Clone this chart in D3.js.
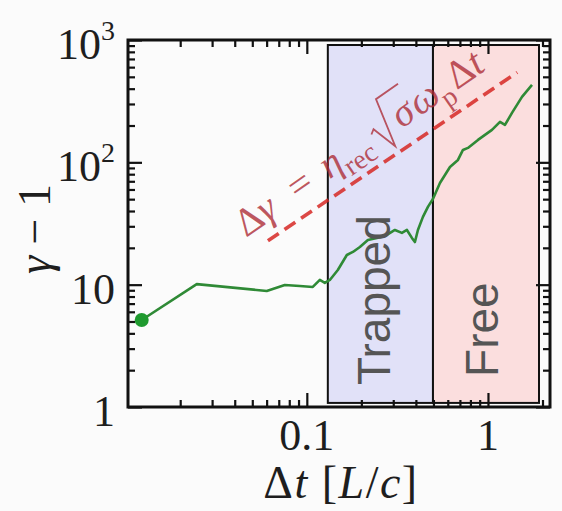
<!DOCTYPE html>
<html><head><meta charset="utf-8">
<script src="https://cdn.jsdelivr.net/npm/d3@7"></script>
<style>
html,body{margin:0;padding:0;background:#fbfbfb;}
svg{display:block;}
</style></head><body>
<script>
// Time lag Δt (units of L/c) and mean energy gain γ − 1
const dtValues = [0.01226,0.02468,0.0601,0.0756,0.0915,0.1079,0.1180,0.1257,0.1340,0.1483,
  0.1663,0.1796,0.1963,0.2173,0.2436,0.2767,0.3064,0.3349,0.3569,0.3803,
  0.3951,0.4105,0.4375,0.4662,0.4968,0.5431,0.6169,0.6830,0.7277,0.7752,
  0.8807,1.052,1.165,1.241,1.357,1.541,1.750];
const gammaValues = [5.14,10.1,8.88,9.94,9.76,9.58,10.93,10.33,10.93,13.19,
  17.49,18.51,20.34,23.2,24.1,25.5,28.0,26.5,28.0,24.1,
  22.3,28.0,35.8,43.2,50.2,67.8,91.7,104.6,126.3,131.2,
  152.5,184.1,213.9,202.2,253.5,342.6,429.5];

// Acceleration phases
const regionNames = ["Trapped", "Free"];
const regionStarts = [0.1306, 0.497];
const regionEnds = [0.497, 1.913];
const regionGamma = [1.08, 910];

// Reference scaling Δγ = η_rec √σ ω_p Δt
const fitCoef = 375;
const fitSpan = [0.061, 1.45];

// Axis tick labels
const xTickValues = [0.1, 1];
const xTickLabels = ["0.1", "1"];
const yTickPowers = [0, 1, 2, 3];

const W = 562, H = 511;
const m = {l: 128, r: 550, t: 40, b: 407};
const serif = "'Liberation Serif', 'DejaVu Serif', serif";
const ink = "#1e1e1e";

const svg = d3.select("body").append("svg").attr("width", W).attr("height", H);
svg.append("rect").attr("width", W).attr("height", H).attr("fill", "#fbfbfb");

const x = d3.scaleLog().domain([0.0103, 2.2]).range([m.l, m.r]);
const y = d3.scaleLog().domain([1, 1000]).range([m.b, m.t]);

// shaded phase regions
const regionFills = ["#e1e1f8", "#fbdede"];
svg.selectAll("rect.region").data(regionNames).join("rect")
  .attr("class", "region")
  .attr("x", (d, i) => x(regionStarts[i]))
  .attr("width", (d, i) => x(regionEnds[i]) - x(regionStarts[i]))
  .attr("y", y(regionGamma[1]))
  .attr("height", y(regionGamma[0]) - y(regionGamma[1]))
  .attr("fill", (d, i) => regionFills[i])
  .attr("stroke", "#111").attr("stroke-width", 2);

// energy gain curve
const pts = dtValues.map((t, i) => [t, gammaValues[i]]);
svg.append("path").datum(pts)
  .attr("d", d3.line().x(d => x(d[0])).y(d => y(d[1])))
  .attr("fill", "none").attr("stroke", "#2f8a36").attr("stroke-width", 2.6)
  .attr("stroke-linejoin", "round");
svg.append("circle").attr("cx", x(pts[0][0])).attr("cy", y(pts[0][1])).attr("r", 7)
  .attr("fill", "#1f9a2f");

// linear scaling guide
const fitPts = fitSpan.map(t => [t, fitCoef * t]);
svg.append("path").datum(fitPts)
  .attr("d", d3.line().x(d => x(d[0])).y(d => y(d[1])))
  .attr("fill", "none").attr("stroke", "rgba(214,40,36,0.85)").attr("stroke-width", 3.6)
  .attr("stroke-dasharray", "13,7");

// formula along the guide
const F = 40;
const fcol = "rgba(172,42,52,0.78)";
const formula = svg.append("g")
  .attr("transform", `translate(246,238) rotate(-35)`)
  .attr("fill", fcol)
  .style("font-family", serif);
const parts = [
  {t: "Δ"}, {t: "γ", it: true}, {t: "=", gap: 0.55, after: 0.4}, {t: "η", it: true},
  {t: "rec", sub: true}, {t: "σ", it: true, root: true, gap: 0.85},
  {t: "ω", it: true, gap: 0.05}, {t: "p", sub: true}, {t: "Δ", gap: 0.08}, {t: "t", it: true}
];
let cur = 0;
parts.forEach(p => {
  cur += (p.gap || 0) * F;
  const fs = p.sub ? 0.7 * F : F;
  const el = formula.append("text").attr("x", cur).attr("y", p.sub ? 0.25 * F : 0)
    .style("font-size", fs + "px").style("font-style", p.it ? "italic" : "normal").text(p.t);
  const w = el.node().getComputedTextLength();
  if (p.root) {
    // radical sign drawn around the argument
    const s = cur;
    formula.append("path")
      .attr("d", `M${s - 0.7 * F},${-0.32 * F} L${s - 0.58 * F},${-0.4 * F} L${s - 0.38 * F},${0.26 * F} ` +
        `L${s - 0.1 * F},${-0.98 * F} L${s + w + 0.08 * F},${-0.98 * F}`)
      .attr("fill", "none").attr("stroke", fcol).attr("stroke-width", 1.8)
      .attr("stroke-linejoin", "miter");
  }
  cur += w + (p.after || 0) * F;
});

// phase labels
const labelOffsets = [{dx: 10, dy: 18}, {dx: 12, dy: 26}];
svg.selectAll("text.phase").data(regionNames).join("text")
  .attr("class", "phase")
  .attr("transform", (d, i) => {
    const cx = (x(regionStarts[i]) + x(regionEnds[i])) / 2 + labelOffsets[i].dx;
    const cy = y(regionGamma[0]) - labelOffsets[i].dy;
    return `translate(${cx},${cy}) rotate(-90)`;
  })
  .style("font-family", "'Liberation Sans', Arial, sans-serif")
  .style("font-size", "46px").attr("fill", "#555")
  .text(d => d);

// inward ticks on all four sides
const isMajor = v => Math.abs(Math.log10(v) - Math.round(Math.log10(v))) < 1e-6;
const xt = x.ticks(), yt = y.ticks();
function tickSide(gen, scale, vals, len, tr) {
  svg.append("g").attr("transform", tr)
    .call(gen(scale).tickValues(vals).tickSize(-len).tickSizeOuter(0).tickFormat(""))
    .call(g => g.select(".domain").remove())
    .selectAll("line").attr("stroke", "#111").attr("stroke-width", 2.2);
}
[[d3.axisBottom, x, xt, `translate(0,${m.b})`], [d3.axisTop, x, xt, `translate(0,${m.t})`],
 [d3.axisLeft, y, yt, `translate(${m.l},0)`], [d3.axisRight, y, yt, `translate(${m.r},0)`]]
  .forEach(([gen, sc, vals, tr]) => {
    tickSide(gen, sc, vals.filter(v => !isMajor(v)), 7, tr);
    tickSide(gen, sc, vals.filter(isMajor), 14, tr);
  });

// frame
svg.append("rect").attr("x", m.l).attr("y", m.t).attr("width", m.r - m.l).attr("height", m.b - m.t)
  .attr("fill", "none").attr("stroke", "#111").attr("stroke-width", 3);

// tick labels
svg.selectAll("text.xl").data(xTickValues).join("text").attr("class", "xl")
  .attr("x", d => x(d)).attr("y", 450).attr("text-anchor", "middle")
  .style("font-family", serif).style("font-size", "44px").attr("fill", ink)
  .text((d, i) => xTickLabels[i]);
const yl = svg.selectAll("text.yl").data(yTickPowers).join("text").attr("class", "yl")
  .attr("x", m.l - 13).attr("y", d => y(Math.pow(10, d)) + 19).attr("text-anchor", "end")
  .style("font-family", serif).style("font-size", "44px").attr("fill", ink);
yl.each(function(p) {
  const t = d3.select(this);
  if (p === 0) t.text("1");
  else if (p === 1) t.text("10");
  else {
    t.append("tspan").text("10");
    t.append("tspan").attr("dy", -19).style("font-size", "28px").text(p);
  }
});

// axis titles
const xt2 = svg.append("text").attr("x", 341).attr("y", 498).attr("text-anchor", "middle")
  .style("font-family", serif).style("font-size", "46px").style("letter-spacing", "1.5px").attr("fill", ink);
[["Δ", 0], ["t", 1], [" [", 0], ["L", 1], ["/", 0], ["c", 1], ["]", 0]].forEach(([s, it]) =>
  xt2.append("tspan").style("font-style", it ? "italic" : "normal").text(s));
const yt2 = svg.append("text").attr("transform", "translate(50,229) rotate(-90)")
  .attr("text-anchor", "middle")
  .style("font-family", serif).style("font-size", "46px").attr("fill", ink);
yt2.append("tspan").style("font-style", "italic").text("γ");
yt2.append("tspan").text(" − 1");
</script>
</body></html>
